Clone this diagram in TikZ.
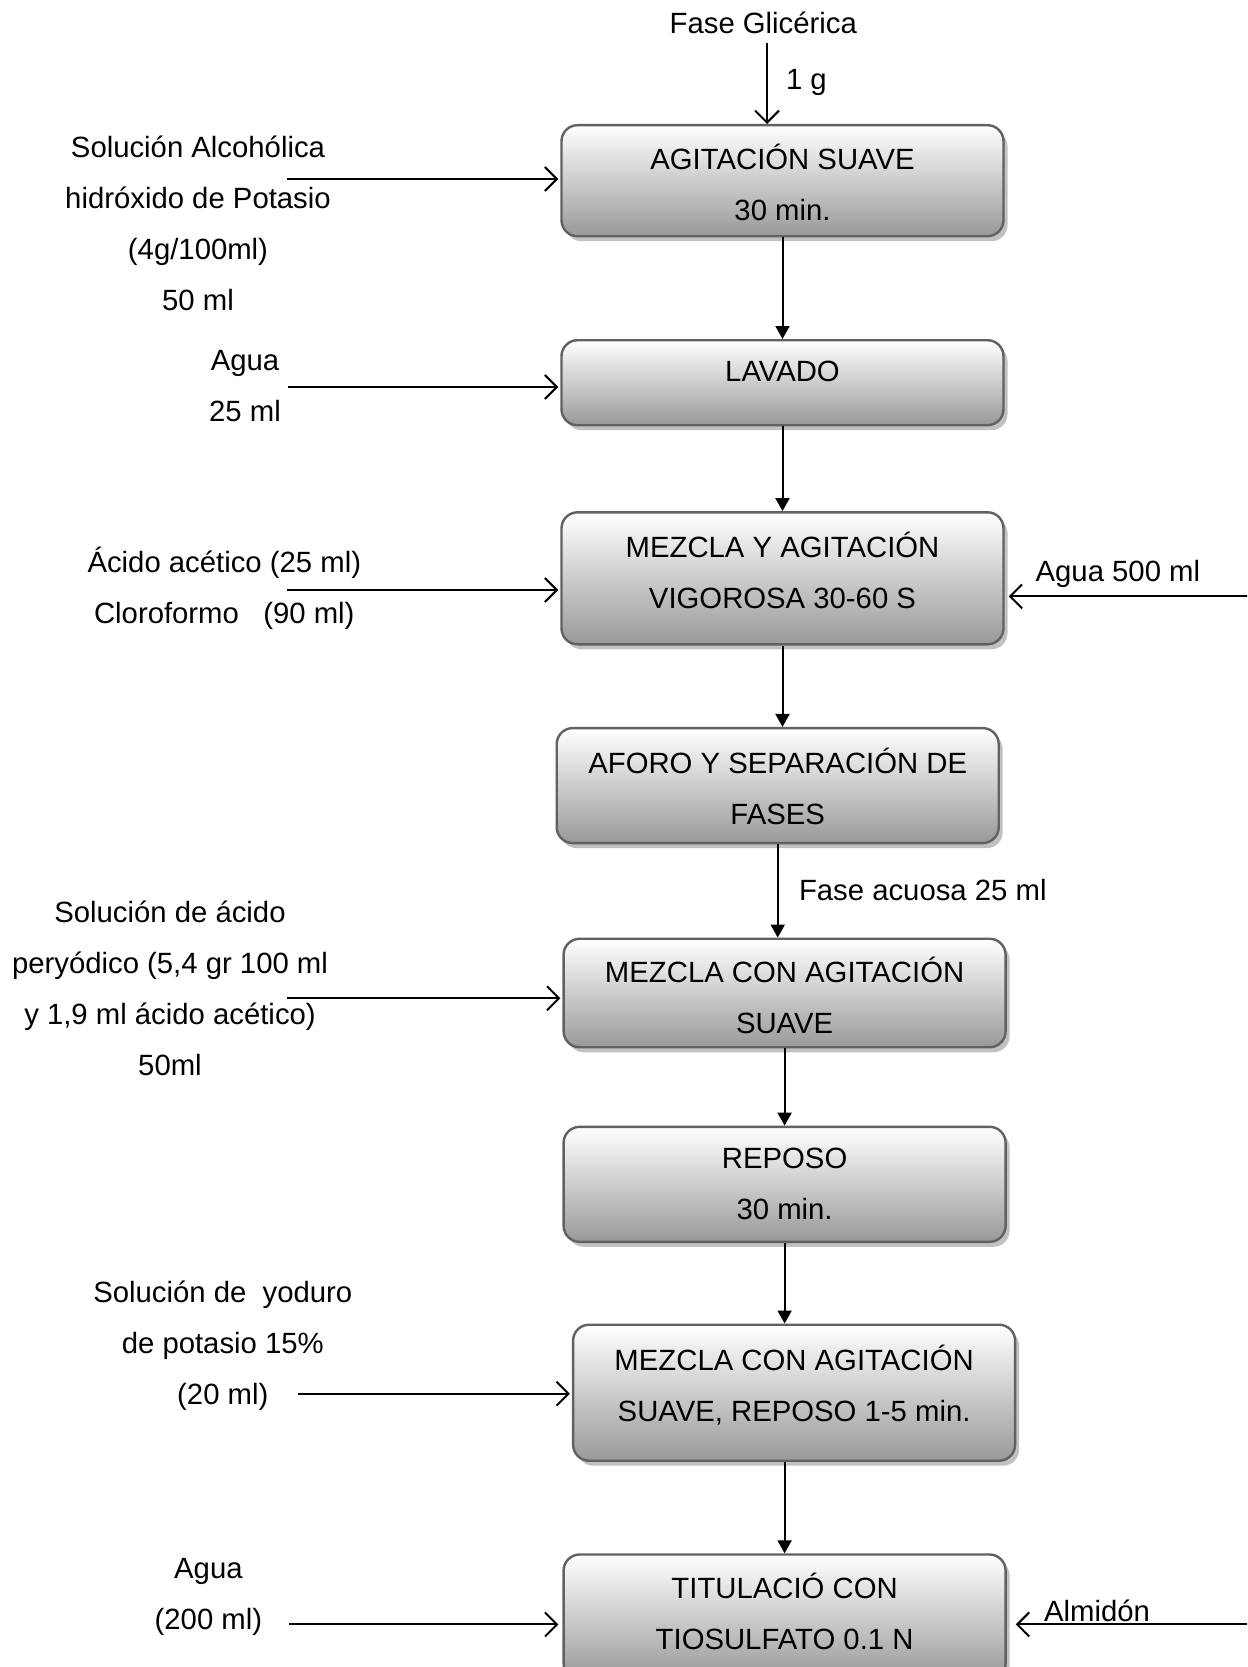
\documentclass[tikz,border=0pt]{standalone}
\usepackage{fontspec}
\setmainfont{Liberation Sans}
\usetikzlibrary{arrows.meta,shadows}
\begin{document}
\begin{tikzpicture}[x=1pt,y=-1pt,
  stepbox/.style={draw=black!62, line width=2.4pt, rounded corners=16pt,
    top color=white, bottom color=black!40, minimum width=442pt, inner sep=0pt,
    drop shadow={shadow xshift=4pt, shadow yshift=-5pt, fill=black!30, opacity=0.8}},
  lbl/.style={font=\fontsize{29.3}{51}\selectfont, align=center, inner sep=0pt,
    execute at begin node=\strut},
  mlbl/.style={lbl, yshift=-7pt},
  flow/.style={line width=2pt, -{Triangle[length=13pt,width=14pt]}},
  feed/.style={line width=2pt, -{Straight Barb[length=12pt,width=24pt]}},
]
\useasboundingbox (0,0) rectangle (1247,1667);
\clip (0,0) rectangle (1247,1667);

% process steps
\node[stepbox, minimum height=111pt]   (b1) at (782.5,180.7)  {};
\node[stepbox, minimum height=85pt]    (b2) at (782.5,382.7)  {};
\node[stepbox, minimum height=132pt]   (b3) at (782.5,578.3)  {};
\node[stepbox, minimum height=115pt]   (b4) at (777.7,785.6)  {};
\node[stepbox, minimum height=108.5pt] (b5) at (784.6,993)    {};
\node[stepbox, minimum height=115pt]   (b6) at (784.6,1184.3) {};
\node[stepbox, minimum height=136pt]   (b7) at (794.1,1392.7) {};
\node[stepbox, minimum height=125pt]   (b8) at (784.6,1617)   {};

\node[mlbl] (t1) at (782.5,182.8)  {AGITACIÓN SUAVE\\30 min.};
\node[lbl]  (t2) at (782.5,371)    {LAVADO\strut};
\node[mlbl] (t3) at (782.5,570.9)  {MEZCLA Y AGITACIÓN\\VIGOROSA 30-60 S};
\node[mlbl] (t4) at (777.7,786.7)  {AFORO Y SEPARACIÓN DE\\FASES};
\node[mlbl] (t5) at (784.6,996.1)  {MEZCLA CON AGITACIÓN\\SUAVE};
\node[mlbl] (t6) at (784.6,1184.3) {REPOSO\\30 min.};
\node[mlbl] (t7) at (794.1,1383.6) {MEZCLA CON AGITACIÓN\\SUAVE, REPOSO 1-5 min.};
\node[mlbl] (t8) at (784.6,1612.2) {TITULACIÓ CON\\TIOSULFATO 0.1 N};

% inputs and labels
\node[lbl]  (fg)  at (763.3,23.4)   {Fase Glicérica\strut};
\node[lbl]  (q1)  at (806.4,79.7)   {1 g\strut};
\node[mlbl] (in1) at (198,223.8)    {Solución Alcohólica\\hidróxido de Potasio\\(4g/100ml)\\50 ml};
\node[mlbl] (in2) at (245,387)      {Agua\\25 ml};
\node[mlbl] (in3) at (224.3,585.8)  {Ácido acético (25 ml)\\Cloroformo\ \ \ (90 ml)};
\node[lbl]  (in4) at (1117.9,571)   {Agua 500 ml\strut};
\node[lbl]  (fa)  at (922.8,889.8)  {Fase acuosa 25 ml\strut};
\node[mlbl] (in5) at (170,989.2)    {Solución de ácido\\peryódico (5,4 gr 100 ml\\y 1,9 ml ácido acético)\\50ml};
\node[mlbl] (in6) at (222.8,1343.4) {Solución de\ \ yoduro\\de potasio 15\%\\(20 ml)};
\node[mlbl] (in7) at (208.4,1594.1) {Agua\\(200 ml)};
\node[lbl]  (in8) at (1097,1611)    {Almidón\strut};

% free ends of the feed arrows
\coordinate (c0) at (767,43);
\coordinate (s1) at (287,179);
\coordinate (s2) at (288,387);
\coordinate (s3) at (287,590);
\coordinate (r3) at (1250,596.4);
\coordinate (s5) at (287,998.3);
\coordinate (s7) at (297.7,1393.7);
\coordinate (s8) at (289,1624.4);
\coordinate (r8) at (1250,1624.4);

\draw[feed] (c0) -- (c0 |- b1.north);
\draw[feed, shorten >=2pt] (s1) -- (s1 -| b1.west);
\draw[feed, shorten >=2pt] (s2) -- (s2 -| b2.west);
\draw[feed, shorten >=2pt] (s3) -- (s3 -| b3.west);
\draw[feed, shorten >=4pt] (r3) -- (r3 -| b3.east);
\draw[feed, shorten >=2pt] (s5) -- (s5 -| b5.west);
\draw[feed, shorten >=2pt] (s7) -- (s7 -| b7.west);
\draw[feed, shorten >=4pt] (s8) -- (s8 -| b8.west);
\draw[feed, shorten >=9pt] (r8) -- (r8 -| b8.east);

% main flow
\draw[flow] (b1.south) -- (b2.north);
\draw[flow] (b2.south) -- (b3.north);
\draw[flow] (b3.south) -- (b3.south |- b4.north);
\draw[flow] (b4.south) -- (b4.south |- b5.north);
\draw[flow] (b5.south) -- (b6.north);
\draw[flow] (b6.south) -- (b6.south |- b7.north);
\draw[flow] (b8.north |- b7.south) -- (b8.north);
\end{tikzpicture}
\end{document}
